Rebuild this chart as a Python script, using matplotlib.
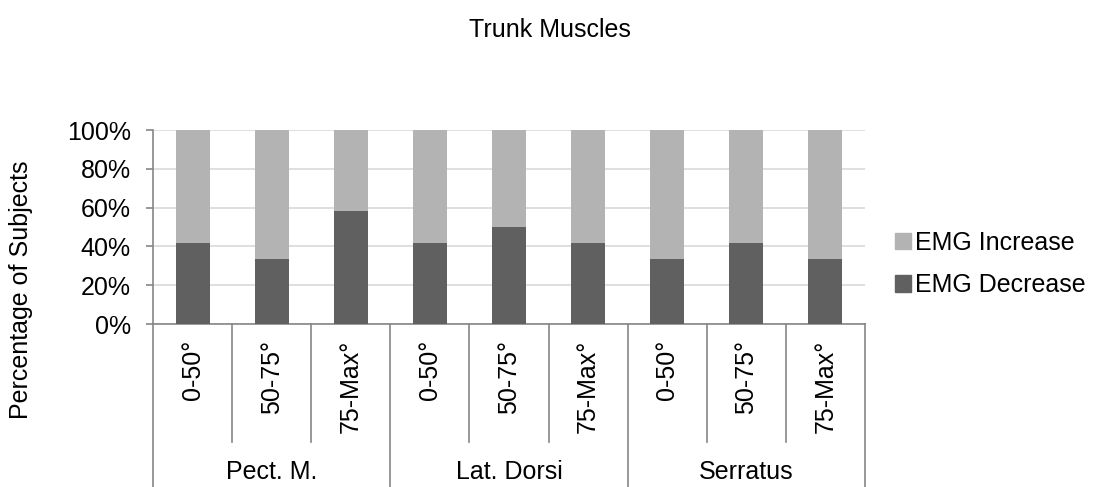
import matplotlib.pyplot as plt
from matplotlib.patches import Patch

plt.rcParams['font.family'] = ['Liberation Sans', 'DejaVu Sans']

groups = ["Pect. M.", "Lat. Dorsi", "Serratus"]
ranges = ["0-50°", "50-75°", "75-Max°"]
decrease = [41.7, 33.3, 58.3, 41.7, 50.0, 41.7, 33.3, 41.7, 33.3]
increase = [100 - d for d in decrease]

c_inc = "#b3b3b3"
c_dec = "#606060"
axis_col = "#868686"
fs = 18

fig = plt.figure(figsize=(10.99, 4.87), dpi=100)
W, H = 1099, 487
x0, x1, ytop, ybot = 153, 865, 130, 324
ax = fig.add_axes([x0 / W, (H - ybot) / H, (x1 - x0) / W, (ybot - ytop) / H])

xs = list(range(len(decrease)))
ax.bar(xs, decrease, width=0.43, color=c_dec, zorder=3)
ax.bar(xs, increase, width=0.43, bottom=decrease, color=c_inc, zorder=3)

ax.set_xlim(-0.5, 8.5)
ax.set_ylim(0, 100)
ax.set_yticks(range(0, 101, 20))
ax.set_yticklabels([f"{v}%" for v in range(0, 101, 20)], fontsize=fs)
ax.yaxis.grid(True, color="#d9d9d9", linewidth=1.2, zorder=0)
ax.set_xticks([])
ax.tick_params(axis='y', length=5, color=axis_col, width=1.2, pad=11)
for s in ["top", "right"]:
    ax.spines[s].set_visible(False)
for s in ["left", "bottom"]:
    ax.spines[s].set_color(axis_col)
    ax.spines[s].set_linewidth(1.2)

ph = ybot - ytop
xt = ax.get_xaxis_transform()
y_inner = -(442 - ybot) / ph
y_outer = -(H - ybot) / ph
for i in range(10):
    xb = i - 0.5
    yb = y_outer if i % 3 == 0 else y_inner
    ax.plot([xb, xb], [0, yb], color=axis_col, lw=1.2, transform=xt, clip_on=False)

for i, x in enumerate(xs):
    ax.text(x, -(340 - ybot) / ph, ranges[i % 3], rotation=90, ha='center', va='top',
            fontsize=fs, transform=xt)
for g, name in enumerate(groups):
    ax.text(g * 3 + 1, -(472 - ybot) / ph, name, ha='center', va='center',
            fontsize=fs, transform=xt)

fig.text(0.5, 1 - 30 / H, "Trunk Muscles", ha='center', va='center', fontsize=fs)
fig.text(21 / W, 1 - 290 / H, "Percentage of Subjects", rotation=90,
         ha='center', va='center', fontsize=fs)

handles = [Patch(color=c_inc, label="EMG Increase"), Patch(color=c_dec, label="EMG Decrease")]
fig.legend(handles=handles, loc='center left', bbox_to_anchor=(895 / W, 1 - 264 / H),
           frameon=False, fontsize=fs, handlelength=0.65, handleheight=0.65,
           handletextpad=0.15, labelspacing=0.75, borderpad=0, borderaxespad=0)

fig.savefig("out.png", dpi=100)
